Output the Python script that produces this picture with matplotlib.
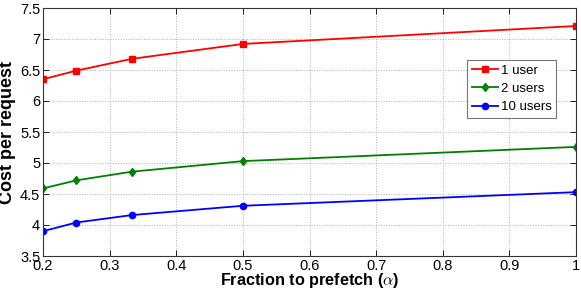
import matplotlib
matplotlib.use("Agg")
import matplotlib.pyplot as plt

plt.rcParams['font.family'] = ['Liberation Sans', 'DejaVu Sans']
plt.rcParams['mathtext.fontset'] = 'cm'

alpha = [0.2, 0.25, 1/3, 0.5, 1.0]
user1 = [6.35, 6.49, 6.68, 6.92, 7.21]
user2 = [4.59, 4.72, 4.86, 5.03, 5.26]
user10 = [3.90, 4.04, 4.16, 4.31, 4.53]
labels = ["1 user", "2 users", "10 users"]
xticks = [0.2, 0.3, 0.4, 0.5, 0.6, 0.7, 0.8, 0.9, 1.0]
xticklabels = ["0.2", "0.3", "0.4", "0.5", "0.6", "0.7", "0.8", "0.9", "1"]
yticks = [3.5, 4, 4.5, 5, 5.5, 6, 6.5, 7, 7.5]
yticklabels = ["3.5", "4", "4.5", "5", "5.5", "6", "6.5", "7", "7.5"]

fig = plt.figure(figsize=(5.81, 2.91), dpi=100)
ax = fig.add_axes([43/581, 1-256/291, (576-43)/581, (256-8)/291])

ax.plot(alpha, user1, color='#ff0000', marker='s', markersize=4, lw=1.3, label=labels[0])
ax.plot(alpha, user2, color='#008000', marker='d', markersize=4.5, lw=1.3, label=labels[1])
ax.plot(alpha, user10, color='#0000ff', marker='o', markersize=4.5, lw=1.3, label=labels[2])

ax.set_xlim(0.2, 1.0)
ax.set_ylim(3.5, 7.5)
ax.set_xticks(xticks)
ax.set_xticklabels(xticklabels)
ax.set_yticks(yticks)
ax.set_yticklabels(yticklabels)
ax.tick_params(direction='in', top=True, right=True, labelsize=10.5, length=4, pad=2, width=0.6)
ax.grid(True, linestyle=':', color='#b0b0b0', lw=0.7)
for s in ax.spines.values():
    s.set_linewidth(0.8)
    s.set_color('#333333')

ax.set_xlabel(r"Fraction to prefetch ($\alpha$)", fontsize=11.7, fontweight='bold', labelpad=-1)
ax.set_ylabel("Cost per request", fontsize=13, fontweight='bold', labelpad=3)

leg = ax.legend(loc='upper left', bbox_to_anchor=((467-43)/533, 1-(60-8)/248), fontsize=9.5,
                frameon=True, fancybox=False, edgecolor='#555555', handlelength=2.0,
                handletextpad=0.2, borderpad=0.35, labelspacing=0.45, borderaxespad=0)
leg.get_frame().set_linewidth(0.8)

fig.savefig("out.png", dpi=100)
